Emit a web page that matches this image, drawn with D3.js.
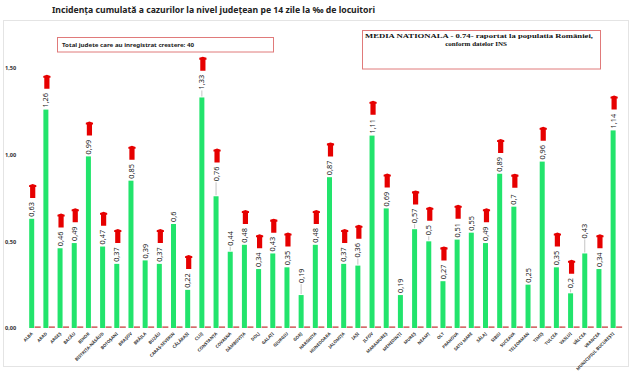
<!DOCTYPE html>
<html>
<head>
<meta charset="utf-8">
<script src="https://cdn.jsdelivr.net/npm/d3@7"></script>
<style>
  html, body { margin: 0; padding: 0; background: #fff; }
  svg { display: block; }
</style>
</head>
<body>
<div id="chart"></div>
<script>
// Incidenta cumulata pe judete, bare verzi + sageti rosii pentru crestere

const counties = [
    'ALBA', 'ARAD', 'ARGEȘ', 'BACĂU', 'BIHOR', 'BISTRIȚA-NĂSĂUD', 'BOTOȘANI', 'BRAȘOV',
    'BRĂILA', 'BUZĂU', 'CARAȘ-SEVERIN', 'CĂLĂRAȘI', 'CLUJ', 'CONSTANȚA', 'COVASNA',
    'DÂMBOVIȚA', 'DOLJ', 'GALAȚI', 'GIURGIU', 'GORJ', 'HARGHITA', 'HUNEDOARA', 'IALOMIȚA',
    'IAȘI', 'ILFOV', 'MARAMUREȘ', 'MEHEDINȚI', 'MUREȘ', 'NEAMȚ', 'OLT', 'PRAHOVA',
    'SATU MARE', 'SĂLAJ', 'SIBIU', 'SUCEAVA', 'TELEORMAN', 'TIMIȘ', 'TULCEA', 'VASLUI',
    'VÂLCEA', 'VRANCEA', 'MUNICIPIUL BUCUREȘTI'
];

const incidence = [
    0.63, 1.26, 0.46, 0.49, 0.99, 0.47, 0.37, 0.85,
    0.39, 0.37, 0.6, 0.22, 1.33, 0.76, 0.44,
    0.48, 0.34, 0.43, 0.35, 0.19, 0.48, 0.87, 0.37,
    0.36, 1.11, 0.69, 0.19, 0.57, 0.5, 0.27, 0.51,
    0.55, 0.49, 0.89, 0.7, 0.25, 0.96, 0.35, 0.2,
    0.43, 0.34, 1.14
];

// a doua serie, aproape zero (liniutele rosii de la baza)
const secondSeries = counties.map(() => 0.008);

// 1 = judet cu crestere (sageata rosie)
const increase = [
    1, 1, 1, 1, 1, 1, 1, 1,
    0, 1, 0, 1, 1, 1, 0,
    1, 1, 1, 1, 0, 1, 1, 1,
    1, 1, 1, 0, 1, 1, 1, 1,
    0, 1, 1, 1, 0, 1, 1, 1,
    0, 1, 1
];

const yTicks = [0, 0.5, 1.0, 1.5];

const TITLE = 'Incidența cumulată a cazurilor la nivel județean pe 14 zile la ‰ de locuitori';
const NOTE_LEFT = 'Total judete care au inregistrat crestere: 40';
const NOTE_RIGHT = ['MEDIA NATIONALA - 0.74-  raportat la populatia României,', 'conform datelor INS'];

// labels that sit higher, joined to the bar by a thin grey line
const LEADER = { 'CONSTANȚA': 13, 'GORJ': 10, 'VÂLCEA': 13, 'CLUJ': 6, 'COVASNA': 4, 'IAȘI': 6, 'MUREȘ': 4, 'NEAMȚ': 4, 'VASLUI': 3 };

const width = 643, height = 379;
const fmt = v => String(v).replace('.', ',');
const fmtTick = v => v.toFixed(2).replace('.', ',');

const svg = d3.select('#chart').append('svg')
    .attr('width', width)
    .attr('height', height);

// outer frame
svg.append('rect')
    .attr('x', 3.5).attr('y', 20.5)
    .attr('width', 625).attr('height', 346)
    .attr('fill', 'none')
    .attr('stroke', '#e4e4e4')
    .attr('stroke-width', 1);

// title
svg.append('text')
    .attr('x', 52).attr('y', 13)
    .attr('font-family', 'Noto Sans, sans-serif')
    .attr('font-size', '8.6px')
    .attr('font-weight', 700)
    .attr('fill', '#222')
    .attr('textLength', 323)
    .attr('lengthAdjust', 'spacingAndGlyphs')
    .text(TITLE);

// left note box
svg.append('rect')
    .attr('x', 57.5).attr('y', 37.5)
    .attr('width', 216).attr('height', 14.5)
    .attr('fill', '#fff')
    .attr('stroke', '#e07a7a')
    .attr('stroke-width', 1);
svg.append('text')
    .attr('x', 62).attr('y', 47)
    .attr('font-family', 'Noto Sans, sans-serif')
    .attr('font-size', '5.4px')
    .attr('font-weight', 700)
    .attr('fill', '#222')
    .attr('textLength', 132)
    .attr('lengthAdjust', 'spacingAndGlyphs')
    .text(NOTE_LEFT);

// right note box
svg.append('rect')
    .attr('x', 362.5).attr('y', 30.5)
    .attr('width', 238).attr('height', 38.5)
    .attr('fill', '#fff')
    .attr('stroke', '#e07a7a')
    .attr('stroke-width', 1);
svg.append('text')
    .attr('x', 365).attr('y', 38)
    .attr('font-family', 'Liberation Serif, serif')
    .attr('font-size', '7px')
    .attr('font-weight', 700)
    .attr('fill', '#111')
    .attr('textLength', 228)
    .attr('lengthAdjust', 'spacingAndGlyphs')
    .text(NOTE_RIGHT[0]);
svg.append('text')
    .attr('x', 476).attr('y', 45.5)
    .attr('text-anchor', 'middle')
    .attr('font-family', 'Liberation Serif, serif')
    .attr('font-size', '7px')
    .attr('font-weight', 700)
    .attr('fill', '#111')
    .text(NOTE_RIGHT[1]);

// scales
const x = d3.scaleBand()
    .domain(counties)
    .range([27.2, 622.8])
    .padding(0);

const y = d3.scaleLinear()
    .domain([0, 1.5])
    .range([328, 68]);

const greenW = 5;
const cx = name => x(name) + 2 + greenW / 2;

// y axis (labels only)
const yAxis = svg.append('g')
    .attr('transform', 'translate(5,0)')
    .call(d3.axisRight(y).tickValues(yTicks).tickFormat(fmtTick).tickSize(0).tickPadding(0));
yAxis.select('.domain').remove();
yAxis.selectAll('text')
    .attr('font-family', 'Noto Sans, sans-serif')
    .attr('font-size', '5.6px')
    .attr('font-weight', 700)
    .attr('fill', '#333');

const data = counties.map((name, i) => ({
    name,
    value: incidence[i],
    second: secondSeries[i],
    up: increase[i] === 1,
}));

// green bars
svg.append('g').selectAll('rect')
    .data(data)
    .join('rect')
    .attr('x', d => x(d.name) + 2)
    .attr('y', d => y(d.value))
    .attr('width', greenW)
    .attr('height', d => y(0) - y(d.value))
    .attr('fill', '#22e46c');

// red baseline series
svg.append('g').selectAll('rect')
    .data(data)
    .join('rect')
    .attr('x', d => x(d.name) + 7.5)
    .attr('y', d => y(d.second) - 0.3)
    .attr('width', 6)
    .attr('height', d => y(0) - y(d.second) + 0.3)
    .attr('fill', '#d46a6a');

// leader lines
svg.append('g').selectAll('line')
    .data(data.filter(d => LEADER[d.name]))
    .join('line')
    .attr('x1', d => cx(d.name)).attr('x2', d => cx(d.name))
    .attr('y1', d => y(d.value) - 1)
    .attr('y2', d => y(d.value) - LEADER[d.name] - 1)
    .attr('stroke', '#aaa')
    .attr('stroke-width', 0.7);

// value labels, rotated
svg.append('g').selectAll('text')
    .data(data)
    .join('text')
    .attr('transform', d => `translate(${cx(d.name) + 2.6},${y(d.value) - 2 - (LEADER[d.name] || 0)}) rotate(-90)`)
    .attr('font-family', 'Noto Sans, sans-serif')
    .attr('font-size', '7.4px')
    .attr('fill', '#222')
    .text(d => fmt(d.value));

// red up arrows
const arrowPath = 'M-2.6,14 L-2.6,3 L-3.6,3 L-3.6,1.2 L0,0 L3.6,1.2 L3.6,3 L2.6,3 L2.6,14 Z';
svg.append('g').selectAll('path')
    .data(data.filter(d => d.up))
    .join('path')
    .attr('transform', d => {
        const lbl = fmt(d.value).length * 4.2;
        const top = y(d.value) - Math.max(19, lbl + 4 + (LEADER[d.name] || 0)) - 14;
        return `translate(${cx(d.name) + 1},${top})`;
    })
    .attr('d', arrowPath)
    .attr('fill', '#e60000');

// category labels at 45 degrees
svg.append('g').selectAll('text')
    .data(data)
    .join('text')
    .attr('transform', d => `translate(${cx(d.name) + 1.5},${334}) rotate(-45)`)
    .attr('text-anchor', 'end')
    .attr('font-family', 'Noto Sans, sans-serif')
    .attr('font-size', '4.3px')
    .attr('font-weight', 700)
    .attr('fill', '#333')
    .text(d => d.name);
</script>
</body>
</html>
